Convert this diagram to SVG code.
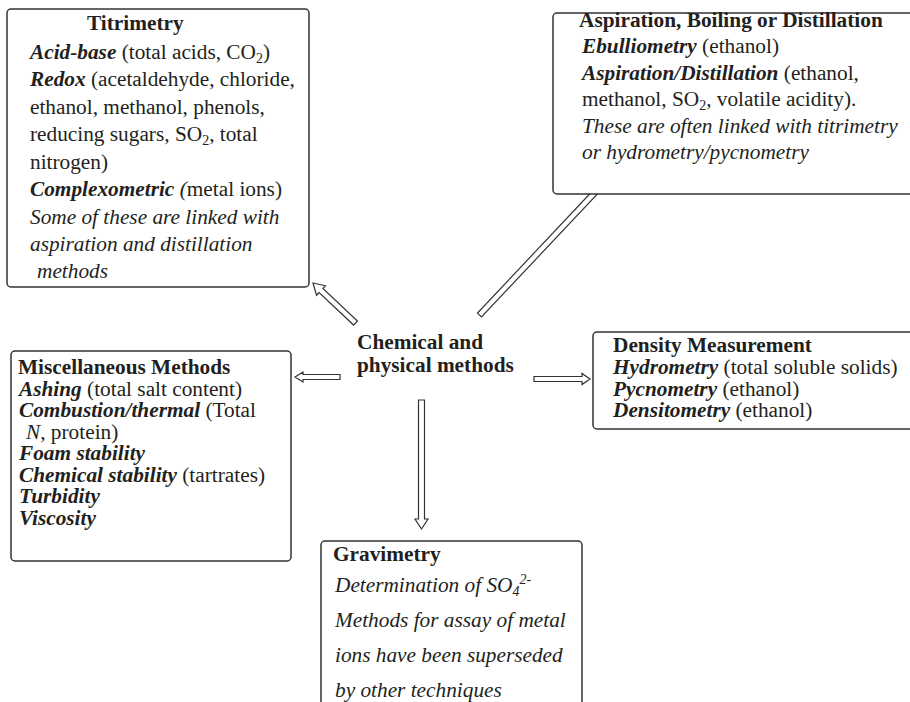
<svg xmlns="http://www.w3.org/2000/svg" width="910" height="702" viewBox="0 0 910 702">
  <style>
    text { font-family: "Liberation Serif", "Times New Roman", serif; font-size: 21.3px; fill: #231f20; }
    .box { fill: #ffffff; stroke: #333333; stroke-width: 1.5; }
    .arrow { fill: #ffffff; stroke: #333333; stroke-width: 1.2; stroke-linejoin: miter; }
    .b { font-weight: bold; }
    .bi { font-weight: bold; font-style: italic; }
    .i { font-style: italic; }
    .sub { font-size: 14px; }
  </style>
  <rect width="910" height="702" fill="#ffffff"/>

  <!-- block arrows radiating from the central label -->
  <g id="connectors">
    <polygon class="arrow" points="313,283 325.45,285.77 322.92,288.46 357.42,320.96 353.58,325.04 319.08,292.54 316.55,295.23"/>
    <polygon class="arrow" points="606.6,180.1 603.78,192.59 601.08,190.04 481.54,316.92 477.46,313.08 597,186.2 594.3,183.65"/>
    <polygon class="arrow" points="295,377 303,372 303,374.5 340,374.5 340,379.5 303,379.5 303,382"/>
    <polygon class="arrow" points="590,379 582,373.5 582,376.5 534,376.5 534,381.5 582,381.5 582,384.5"/>
    <polygon class="arrow" points="421.5,529 415,519 418.5,519 418.5,400 424.5,400 424.5,519 428,519"/>
  </g>

  <g id="center">
    <text class="b" x="357" y="349">Chemical and</text>
    <text class="b" x="357" y="372">physical methods</text>
  </g>

  <g id="titrimetry">
    <rect class="box" x="7" y="9" width="302" height="278" rx="4"/>
    <text class="b" x="87" y="30">Titrimetry</text>
    <text x="30" y="58.5"><tspan class="bi">Acid-base</tspan> (total acids, CO<tspan class="sub" dy="4">2</tspan><tspan dy="-4">)</tspan></text>
    <text x="30" y="86"><tspan class="bi">Redox</tspan> (acetaldehyde, chloride,</text>
    <text x="30" y="113.5">ethanol, methanol, phenols,</text>
    <text x="30" y="141">reducing sugars, SO<tspan class="sub" dy="4">2</tspan><tspan dy="-4">, total</tspan></text>
    <text x="30" y="168.5">nitrogen)</text>
    <text x="30" y="196"><tspan class="bi">Complexometric</tspan><tspan class="i"> (</tspan>metal ions)</text>
    <text class="i" x="30" y="223.5">Some of these are linked with</text>
    <text class="i" x="30" y="251">aspiration and distillation</text>
    <text class="i" x="37" y="278">methods</text>
  </g>

  <g id="aspiration">
    <rect class="box" x="553" y="13" width="362" height="181" rx="4"/>
    <text class="b" x="579" y="26.5">Aspiration, Boiling or Distillation</text>
    <text x="582" y="53"><tspan class="bi">Ebulliometry</tspan> (ethanol)</text>
    <text x="582" y="79.5"><tspan class="bi">Aspiration/Distillation</tspan> (ethanol,</text>
    <text x="582" y="106">methanol, SO<tspan class="sub" dy="4">2</tspan><tspan dy="-4">, volatile acidity).</tspan></text>
    <text class="i" x="582" y="132.5">These are often linked with titrimetry</text>
    <text class="i" x="582" y="159">or hydrometry/pycnometry</text>
  </g>

  <g id="miscellaneous">
    <rect class="box" x="11" y="351" width="280" height="210" rx="4"/>
    <text class="b" x="18" y="374">Miscellaneous Methods</text>
    <text x="19" y="395.5"><tspan class="bi">Ashing</tspan> (total salt content)</text>
    <text x="19" y="417"><tspan class="bi">Combustion/thermal</tspan> (Total</text>
    <text x="26" y="438.5"><tspan class="i">N</tspan>, protein)</text>
    <text class="bi" x="19" y="460">Foam stability</text>
    <text x="19" y="481.5"><tspan class="bi">Chemical stability</tspan> (tartrates)</text>
    <text class="bi" x="19" y="503">Turbidity</text>
    <text class="bi" x="19" y="524.5">Viscosity</text>
  </g>

  <g id="density">
    <rect class="box" x="593" y="332" width="322" height="97" rx="4"/>
    <text class="b" x="613" y="352">Density Measurement</text>
    <text x="613" y="374"><tspan class="bi">Hydrometry</tspan> (total soluble solids)</text>
    <text x="613" y="395.5"><tspan class="bi">Pycnometry</tspan> (ethanol)</text>
    <text x="613" y="417"><tspan class="bi">Densitometry</tspan> (ethanol)</text>
  </g>

  <g id="gravimetry">
    <rect class="box" x="321" y="541" width="261" height="175" rx="4"/>
    <text class="b" x="333" y="560.5">Gravimetry</text>
    <text class="i" x="335" y="591.5">Determination of SO<tspan class="sub" dy="4">4</tspan><tspan class="sub" dy="-12">2-</tspan></text>
    <text class="i" x="335" y="626.5">Methods for assay of metal</text>
    <text class="i" x="335" y="661.5">ions have been superseded</text>
    <text class="i" x="335" y="696.5">by other techniques</text>
  </g>
</svg>
